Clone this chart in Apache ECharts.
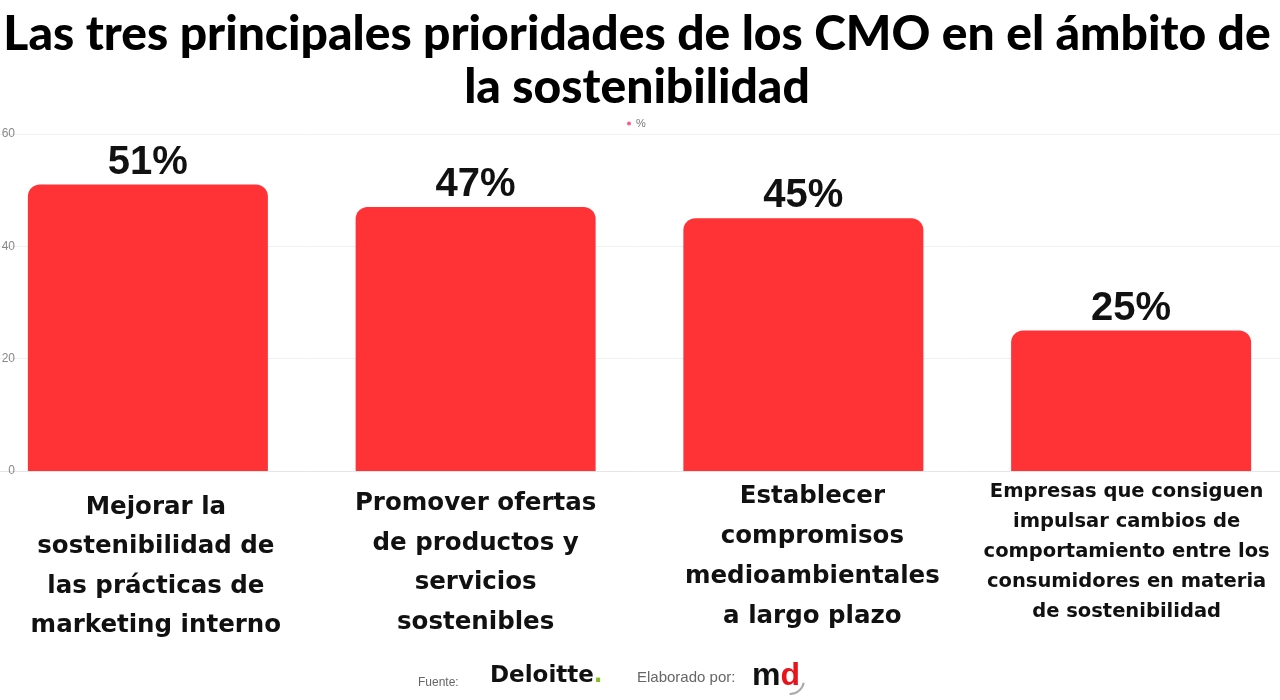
<!DOCTYPE html>
<html>
<head>
<meta charset="utf-8">
<script src="https://cdn.jsdelivr.net/npm/echarts@6/dist/echarts.min.js"></script>
<style>html,body{margin:0;padding:0;background:#fff;overflow:hidden;width:1280px;height:700px;position:relative}#c{width:1311px;height:700px;position:absolute;left:-16px;top:0}</style>
</head>
<body>
<div id="c"></div>
<script>
const titleText = 'Las tres principales prioridades de los CMO en el ámbito de\nla sostenibilidad';
const seriesName = '%';
const categories = [
  'Mejorar la\nsostenibilidad de\nlas prácticas de\nmarketing interno',
  'Promover ofertas\nde productos y\nservicios\nsostenibles',
  'Establecer\ncompromisos\nmedioambientales\na largo plazo',
  'Empresas que consiguen\nimpulsar cambios de\ncomportamiento entre los\nconsumidores en materia\nde sostenibilidad'
];
const values = [51, 47, 45, 25];
const yTicks = [0, 20, 40, 60];

const labelPads = [[12, 0, 0, 16], [8, 0, 0, 0], [1, 0, 0, 18], [1, 9, 0, 0]];
const labelSizes = [24.5, 24.5, 24.5, 19.5];
const labelLH = [39.3, 39.5, 40, 30];

const OFF = 16; // canvas is shifted 16px left of the page
const chart = echarts.init(document.getElementById('c'));
chart.setOption({
  backgroundColor: '#ffffff',
  animation: false,
  title: {
    text: titleText,
    left: 648,
    textAlign: 'center',
    top: 3,
    textStyle: {fontFamily: 'Lato', fontWeight: 900, fontSize: 48, lineHeight: 53, color: '#000'}
  },
  legend: {
    top: 113, left: 622 + OFF,
    icon: 'circle', itemWidth: 4, itemHeight: 4, itemGap: 3,
    textStyle: {fontSize: 11, color: '#777', fontFamily: 'Liberation Sans'},
    itemStyle: {color: '#ff5a7a'},
    data: [seriesName]
  },
  grid: {left: 0, right: 0, top: 134, bottom: 229, containLabel: false},
  xAxis: {
    type: 'category',
    data: categories.map((c, i) => ({
      value: c,
      textStyle: {fontSize: labelSizes[i], lineHeight: labelLH[i], padding: labelPads[i]}
    })),
    axisLine: {show: true, lineStyle: {color: '#e6e6e6'}},
    axisTick: {show: false},
    axisLabel: {
      interval: 0, margin: 5,
      color: '#111', fontFamily: 'DejaVu Sans', fontWeight: 'bold', fontSize: 24, lineHeight: 39, align: 'center'
    }
  },
  yAxis: {
    type: 'value', min: yTicks[0], max: yTicks[yTicks.length - 1], interval: 20,
    axisLine: {show: false}, axisTick: {show: false},
    splitLine: {lineStyle: {color: '#f0f0f0'}},
    axisLabel: {margin: -31, color: '#888', fontSize: 12, fontFamily: 'Liberation Sans'}
  },
  series: [{
    name: seriesName,
    type: 'bar',
    data: values,
    barWidth: 240,
    itemStyle: {color: '#ff3236', borderRadius: [12, 12, 0, 0]},
    label: {
      show: true, position: 'top', distance: 2,
      formatter: '{c}%',
      fontFamily: 'Liberation Sans', fontWeight: 'bold', fontSize: 40, color: '#111'
    }
  }],
  graphic: [
    {type: 'text', left: 418 + OFF, top: 677, style: {text: 'Fuente:', fontSize: 12, fill: '#666', fontFamily: 'Liberation Sans'}},
    {type: 'text', left: 490 + OFF, top: 665, style: {
      text: '{d|Deloitte}{g|.}',
      rich: {
        d: {fontSize: 23, fontWeight: 'bold', fill: '#111', fontFamily: 'DejaVu Sans'},
        g: {fontSize: 23, fontWeight: 'bold', fill: '#86bc25', fontFamily: 'DejaVu Sans'}
      }
    }},
    {type: 'text', left: 637 + OFF, top: 670, style: {text: 'Elaborado por:', fontSize: 15, fill: '#666', fontFamily: 'Liberation Sans'}},
    {type: 'text', left: 752 + OFF, top: 660, style: {
      text: '{m|m}{d|d}',
      rich: {
        m: {fontSize: 32, fontWeight: 'bold', fill: '#111', fontFamily: 'Liberation Sans'},
        d: {fontSize: 32, fontWeight: 'bold', fill: '#e8141c', fontFamily: 'Liberation Sans'}
      }
    }},
    {type: 'arc', shape: {cx: 790 + OFF, cy: 680, r: 14, startAngle: 0.2, endAngle: 1.6}, style: {stroke: '#aaa', lineWidth: 2, fill: null}}
  ]
});
</script>
</body>
</html>
